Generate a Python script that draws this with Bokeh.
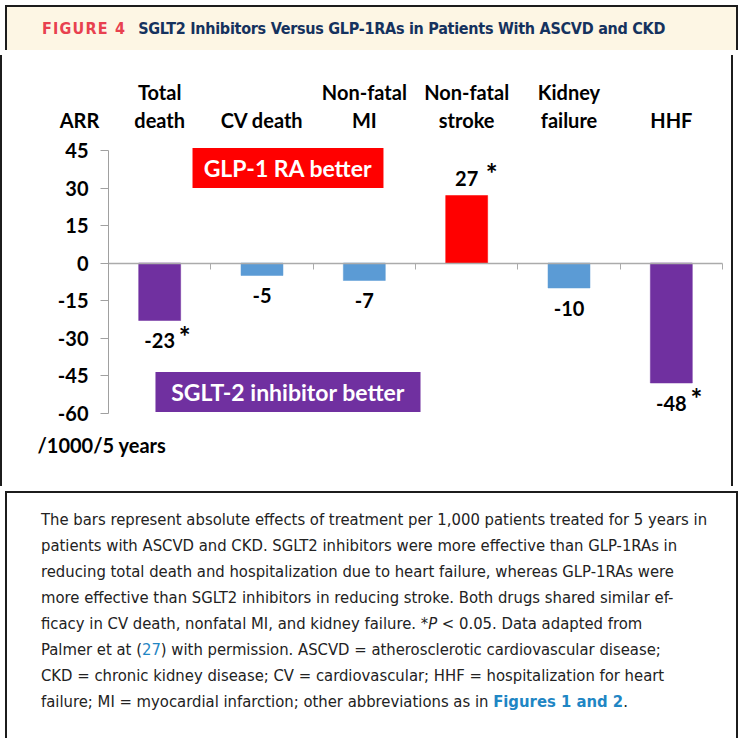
from bokeh.plotting import figure
from bokeh.models import (Range1d, FixedTicker, Label, LabelSet, Div,
                          ColumnDataSource, BoxAnnotation, LinearAxis)
from bokeh.layouts import column
from bokeh.core.properties import value
from bokeh.embed import file_html
from bokeh.resources import INLINE

# ---------------- data ----------------
categories = ["Total death", "CV death", "Non-fatal MI", "Non-fatal stroke",
              "Kidney failure", "HHF"]
label_line1 = ["Total", "", "Non-fatal", "Non-fatal", "Kidney", ""]
label_line2 = ["death", "CV death", "MI", "stroke", "failure", "HHF"]
arr_values = [-23, -5, -7, 27, -10, -48]
significant = [True, False, False, True, False, True]
bar_colors = ["#7030A0", "#5B9BD5", "#5B9BD5", "#FF0000", "#5B9BD5", "#7030A0"]
y_ticks = [45, 30, 15, 0, -15, -30, -45, -60]
y_title_top = "ARR"
y_title_bottom = "/1000/5 years"

FONT = "Lato"
BORDER = "2px solid #1c1c1c"
W = 733
COND = "\"Liberation Sans Narrow\",\"DejaVu Sans Condensed\",\"Roboto Condensed\",\"Noto Sans\",sans-serif"

# ---------------- header ----------------
header_html = (
    "<div style='display:flex;align-items:center;height:45px;padding-left:35px;"
    "font-family:%s;font-stretch:condensed;white-space:nowrap;'>" % COND +
    "<span style='color:#E8414F;font-weight:bold;font-size:16px;letter-spacing:1.2px;'>FIGURE 4</span>"
    "<span style='color:#15325E;font-weight:bold;font-size:16px;letter-spacing:-0.27px;margin-left:12px;'>"
    "SGLT2 Inhibitors Versus GLP-1RAs in Patients With ASCVD and CKD</span></div>"
)
header = Div(text=header_html, width=W, height=45,
             styles={"background-color": "#FDF6E4", "border-top": BORDER,
                     "border-left": BORDER, "border-right": BORDER})

# ---------------- chart ----------------
n = len(categories)
xpos = [i + 0.5 for i in range(n)]          # category slots on the x scale

p = figure(width=W, height=431,
           x_range=Range1d(-1.0358, 6.127),
           y_range=Range1d(-89.4, 83.0),
           output_backend="svg", toolbar_location=None,
           x_axis_location=None,
           min_border_left=0, min_border_right=0,
           min_border_top=0, min_border_bottom=0,
           styles={"border-left": BORDER, "border-right": BORDER})
p.outline_line_color = None
for g in p.grid:
    g.visible = False

yax = p.yaxis[0]
yax.fixed_location = 0
yax.ticker = FixedTicker(ticks=y_ticks)
yax.bounds = (min(y_ticks), max(y_ticks))
yax.major_label_overrides = {t: str(t) for t in y_ticks}
yax.major_label_text_font = FONT
yax.major_label_text_font_style = "bold"
yax.major_label_text_font_size = "20px"
yax.major_label_text_color = "black"
yax.axis_line_color = "#A0A0A0"
yax.major_tick_line_color = "#A0A0A0"
yax.major_tick_out = 8
yax.major_tick_in = 0
yax.minor_tick_line_color = None
yax.major_label_standoff = 12

# zero axis with ticks at the category boundaries
xax = LinearAxis(fixed_location=0, bounds=(0, n),
                 ticker=FixedTicker(ticks=list(range(n + 1))),
                 major_label_overrides={i: "" for i in range(n + 1)},
                 axis_line_color="#ABABAB", axis_line_width=1.5,
                 major_tick_line_color="#ABABAB", major_tick_out=6, major_tick_in=0,
                 minor_tick_line_color=None)
p.add_layout(xax, "below")

src = ColumnDataSource(dict(
    x=xpos, cat=categories, val=arr_values, color=bar_colors,
    text=[str(v) for v in arr_values],
    ly=[v - 8 if v < 0 else v + 7 for v in arr_values],
))
p.vbar(x="x", top="val", bottom=0, width=0.41, source=src,
       fill_color="color", line_color="color", line_alpha=0.5)

p.add_layout(LabelSet(x="x", y="ly", text="text", source=src,
                      text_align="center", text_baseline="middle",
                      text_font=value(FONT), text_font_style="bold",
                      text_font_size="20px", text_color="black"))

star_src = ColumnDataSource(dict(
    x=[xx for xx, s in zip(xpos, significant) if s],
    ly=[(v - 8 if v < 0 else v + 7) for v, s in zip(arr_values, significant) if s],
))
p.add_layout(LabelSet(x="x", y="ly", text=value("*"), source=star_src,
                      x_offset=25, y_offset=5,
                      text_align="center", text_baseline="middle",
                      text_font=value(FONT), text_font_style="bold",
                      text_font_size="28px", text_color="black"))

# category labels on top (two lines)
lab_src = ColumnDataSource(dict(x=xpos, l1=label_line1, l2=label_line2,
                                y1=[68.4] * n, y2=[57.2] * n))
for col, ycol in (("l1", "y1"), ("l2", "y2")):
    p.add_layout(LabelSet(x="x", y=ycol, text=col, source=lab_src,
                          text_align="center", text_baseline="middle",
                          text_font=value(FONT), text_font_style="bold",
                          text_font_size="20px", text_color="black"))

p.add_layout(Label(x=-0.283, y=57.2, text=y_title_top, text_align="center",
                   text_baseline="middle", text_font=FONT, text_font_style="bold",
                   text_font_size="20px", text_color="black"))
p.add_layout(Label(x=-0.694, y=-72.8, text=y_title_bottom, text_align="left",
                   text_baseline="middle", text_font=FONT, text_font_style="bold",
                   text_font_size="20px", text_color="black"))

# "better" boxes
p.add_layout(BoxAnnotation(left=0.821, right=2.687, top=46, bottom=30,
                           fill_color="#FF0000", fill_alpha=1, line_color=None))
p.add_layout(Label(x=1.754, y=38, text="GLP-1 RA better", text_align="center",
                   text_baseline="middle", text_font=FONT, text_font_style="bold",
                   text_font_size="23px", text_color="white"))
p.add_layout(BoxAnnotation(left=0.459, right=3.049, top=-43.6, bottom=-59.6,
                           fill_color="#7030A0", fill_alpha=1, line_color=None))
p.add_layout(Label(x=1.754, y=-51.6, text="SGLT-2 inhibitor better", text_align="center",
                   text_baseline="middle", text_font=FONT, text_font_style="bold",
                   text_font_size="23px", text_color="white"))

# ---------------- caption ----------------
blue = "#1F86C4"
cap_lines = [
    "The bars represent absolute effects of treatment per 1,000 patients treated for 5 years in",
    "patients with ASCVD and CKD. SGLT2 inhibitors were more effective than GLP-1RAs in",
    "reducing total death and hospitalization due to heart failure, whereas GLP-1RAs were",
    "more effective than SGLT2 inhibitors in reducing stroke. Both drugs shared similar ef-",
    "ficacy in CV death, nonfatal MI, and kidney failure. *<i>P</i> &lt; 0.05. Data adapted from",
    "Palmer et at (<span style='color:%s'>27</span>) with permission. ASCVD = atherosclerotic cardiovascular disease;" % blue,
    "CKD = chronic kidney disease; CV = cardiovascular; HHF = hospitalization for heart",
    "failure; MI = myocardial infarction; other abbreviations as in "
    "<b style='color:%s'>Figures 1 and 2</b>." % blue,
]
cap_html = (
    "<div style='padding:14px 0 0 34px;line-height:26px;font-size:16.5px;color:#222;"
    "font-family:%s;font-stretch:condensed;white-space:nowrap;'>" % COND
    + "<br>".join(cap_lines) + "</div>"
)
caption = Div(text=cap_html, width=W, height=252,
              styles={"border-top": BORDER, "border-left": BORDER, "border-right": BORDER,
                      "background-color": "white"})

layout = column(header, p, caption, spacing=0)

open("out.html", "w").write(file_html(layout, INLINE))
